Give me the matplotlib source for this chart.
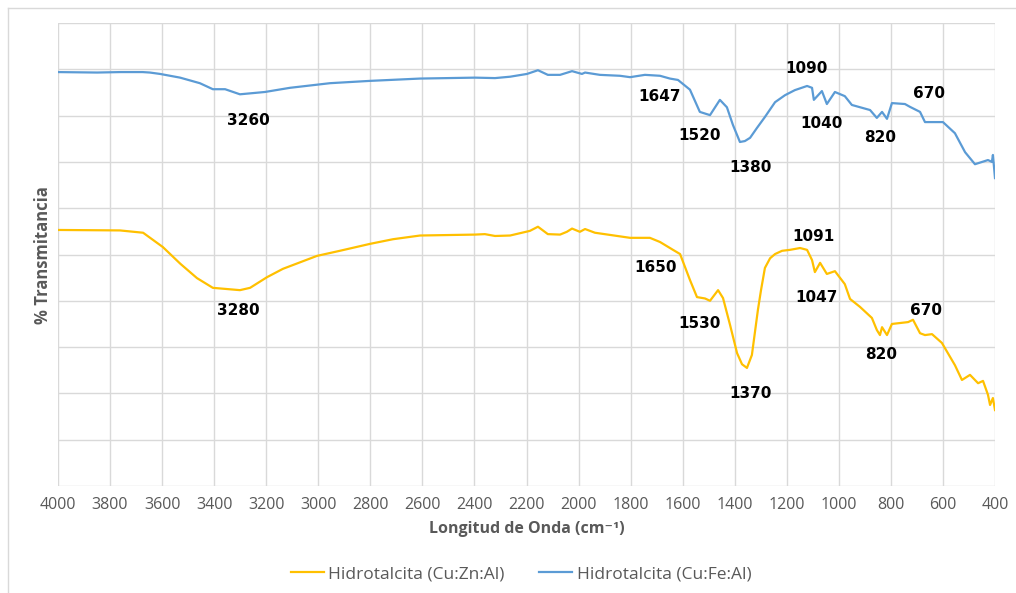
import matplotlib
matplotlib.use("Agg")
import matplotlib.pyplot as plt
from matplotlib.lines import Line2D

plt.rcParams['font.family'] = ['Open Sans', 'DejaVu Sans']

# Hidrotalcita (Cu:Fe:Al) - blue
wn_fe = [4000, 3850, 3760, 3675, 3647, 3608, 3531, 3455, 3405, 3358, 3301, 3205, 3109, 2955, 2801, 2609, 2398,
         2321, 2263, 2198, 2156, 2118, 2071, 2025, 1987, 1975, 1918, 1841, 1802, 1745,
         1687, 1649, 1618, 1572, 1534, 1495, 1457, 1430, 1407, 1380, 1361, 1341, 1315, 1284, 1245, 1207, 1169, 1122,
         1103, 1096, 1065, 1046, 1015, 977, 950, 880, 854, 834, 815, 796, 746, 727, 688,
         669, 600, 554, 515, 477, 427, 412, 408, 400]
t_fe = [89.4, 89.3, 89.4, 89.4, 89.3, 89.0, 88.2, 87.0, 85.7, 85.7, 84.6, 85.1, 86.0, 87.0, 87.5, 88.0, 88.2,
        88.1, 88.4, 89.0, 89.8, 88.8, 88.8, 89.6, 89.0, 89.3, 88.8, 88.6, 88.3, 88.8,
        88.6, 88.0, 87.7, 85.6, 80.8, 80.1, 83.4, 81.8, 78.0, 74.3, 74.5, 75.2, 77.3, 79.7, 82.9, 84.4, 85.5, 86.4,
        86.0, 83.4, 85.3, 82.5, 85.1, 84.2, 82.3, 81.2, 79.5, 80.8, 79.3, 82.7, 82.5, 81.9, 80.8,
        78.6, 78.6, 76.2, 72.1, 69.5, 70.4, 70.0, 71.5, 66.5]

# Hidrotalcita (Cu:Zn:Al) - orange
wn_zn = [4000, 3762, 3673, 3597, 3530, 3466, 3405, 3301, 3262, 3197, 3136, 3005, 2917, 2801,
         2713, 2609, 2398, 2360, 2321, 2263, 2187, 2156, 2118, 2071, 2045, 2025, 1995,
         1975, 1937, 1802, 1726, 1687, 1637, 1610, 1572, 1545, 1514, 1495, 1464, 1445,
         1418, 1391, 1372, 1353, 1334, 1311, 1299, 1284, 1264, 1245, 1218, 1188, 1149, 1122, 1103, 1092, 1072,
         1046, 1015, 977, 957, 919, 873, 854, 842, 834, 815, 796, 734, 715, 688, 669,
         642, 604, 554, 527, 496, 465, 446, 427, 419, 408, 400]
t_zn = [55.3, 55.2, 54.7, 51.6, 48.0, 44.9, 42.8, 42.3, 42.8, 45.1, 46.9, 49.7, 50.8, 52.3,
        53.3, 54.1, 54.3, 54.4, 54.0, 54.1, 55.1, 56.0, 54.4, 54.3, 54.9, 55.6, 54.9,
        55.5, 54.7, 53.6, 53.6, 52.7, 51.0, 50.1, 44.5, 40.8, 40.5, 40.0, 42.3, 40.6,
        34.8, 28.7, 26.3, 25.5, 28.3, 38.0, 42.3, 47.1, 49.2, 50.1, 50.8, 51.0, 51.4, 51.0, 48.8, 46.2, 48.2,
        45.8, 46.4, 43.6, 40.4, 38.7, 36.3, 33.7, 32.6, 34.3, 32.6, 35.0, 35.4, 35.9,
        33.0, 32.6, 32.8, 30.9, 26.1, 22.9, 24.0, 22.2, 22.7, 19.7, 17.5, 19.0, 16.4]

labels_fe = ["3260", "1647", "1520", "1380", "1090", "1040", "820", "670"]
lab_fe_x = [3270, 1687, 1534, 1338, 1126, 1065, 842, 654]
lab_fe_y = [79.0, 84.2, 75.6, 68.7, 90.1, 78.4, 75.2, 84.7]

labels_zn = ["3280", "1650", "1530", "1370", "1091", "1047", "820", "670"]
lab_zn_x = [3308, 1703, 1534, 1341, 1099, 1084, 838, 665]
lab_zn_y = [38.0, 47.3, 35.2, 19.9, 53.8, 40.8, 28.3, 37.8]

xticks = list(range(4000, 399, -200))

name_zn = "Hidrotalcita (Cu:Zn:Al)"
name_fe = "Hidrotalcita (Cu:Fe:Al)"
c_zn = "#FFC000"
c_fe = "#5B9BD5"
gray = "#595959"

fig = plt.figure(figsize=(10.16, 5.93), dpi=100)
W, H = 1016, 593
ax = fig.add_axes([58 / W, 1 - 486 / H, (995 - 58) / W, (486 - 23) / H])

ax.plot(wn_zn, t_zn, color=c_zn, lw=1.6, solid_joinstyle='round')
ax.plot(wn_fe, t_fe, color=c_fe, lw=1.6, solid_joinstyle='round')

ax.set_xlim(4000, 400)
ax.set_ylim(0, 100)
ax.set_xticks(xticks)
ax.set_xticklabels([str(v) for v in xticks], color=gray, fontsize=11.5)
ax.set_yticks(range(0, 101, 10))
ax.set_yticklabels([])
ax.tick_params(length=0, pad=8)
ax.grid(True, color="#D9D9D9", lw=1.0)
ax.set_axisbelow(True)
for s in ax.spines.values():
    s.set_visible(False)

for t, x, y in zip(labels_fe, lab_fe_x, lab_fe_y):
    ax.text(x, y, t, ha='center', va='center', fontsize=11, fontweight='bold',
            color='black', family='DejaVu Sans')
for t, x, y in zip(labels_zn, lab_zn_x, lab_zn_y):
    ax.text(x, y, t, ha='center', va='center', fontsize=11, fontweight='bold',
            color='black', family='DejaVu Sans')

fig.text(527 / W, 1 - 529 / H, "Longitud de Onda (cm⁻¹)", ha='center', va='center',
         fontsize=11.5, fontweight='bold', color=gray)
fig.text(43 / W, 1 - 255 / H, "% Transmitancia", ha='center', va='center', rotation=90,
         fontsize=12, fontweight='bold', color=gray)

handles = [Line2D([], [], color=c_zn, lw=1.6), Line2D([], [], color=c_fe, lw=1.6)]
fig.legend(handles, [name_zn, name_fe], loc='center', bbox_to_anchor=(521 / W, 1 - 574 / H),
           ncol=2, frameon=False, fontsize=12.5, labelcolor=gray, handlelength=1.9,
           handletextpad=0.25, columnspacing=2.0)

# outer chart border
fig.add_artist(Line2D([8 / W, 8 / W], [0, 1 - 8 / H], transform=fig.transFigure, color="#D9D9D9", lw=1))
fig.add_artist(Line2D([8 / W, 1], [1 - 8 / H, 1 - 8 / H], transform=fig.transFigure, color="#D9D9D9", lw=1))

fig.savefig("out.png", dpi=100)
